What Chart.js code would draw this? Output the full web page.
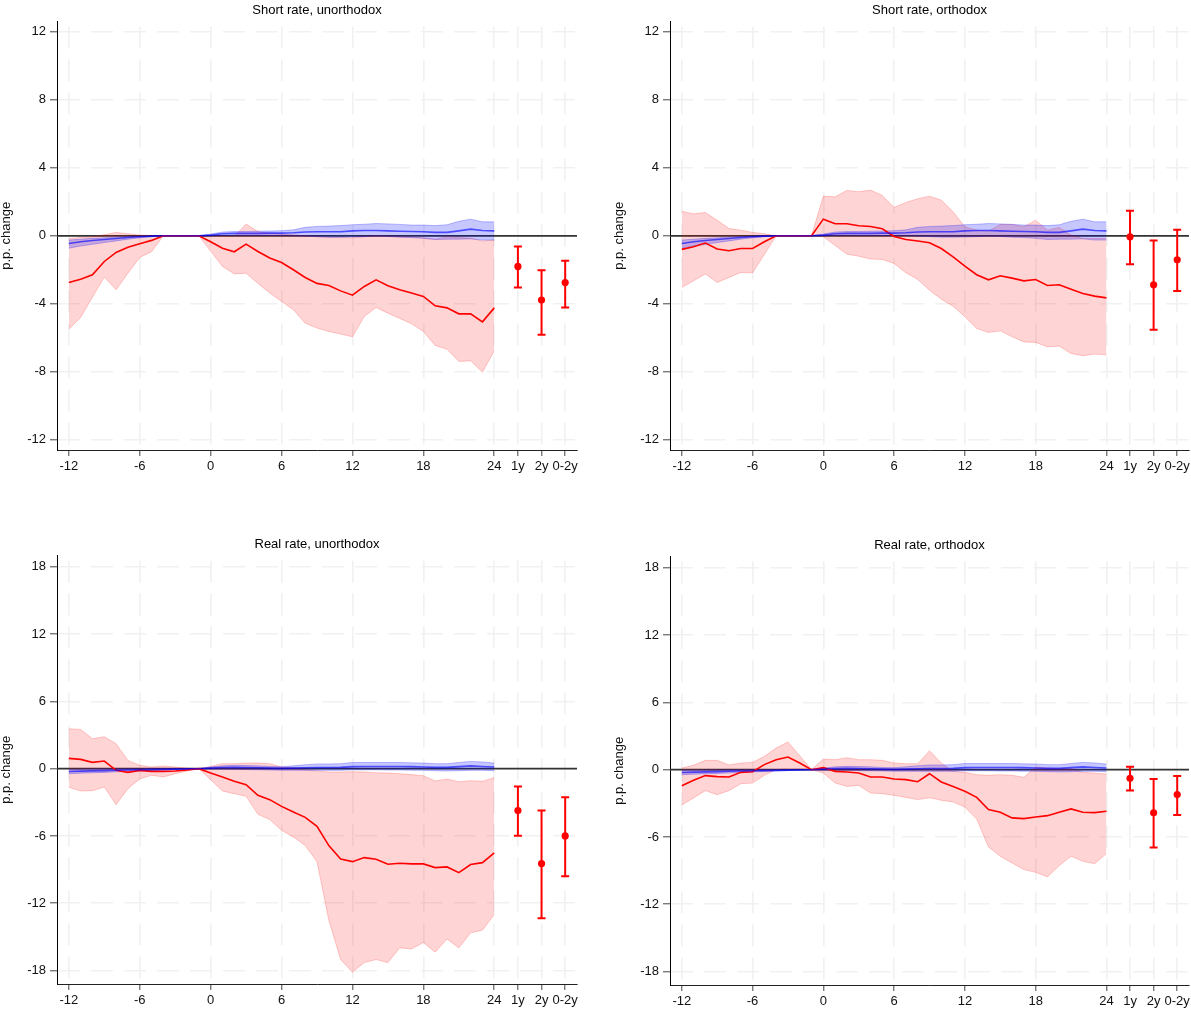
<!DOCTYPE html>
<html>
<head>
<meta charset="utf-8">
<title>Impulse responses</title>
<script src="https://cdn.jsdelivr.net/npm/chart.js@4.4.1/dist/chart.umd.min.js"></script>
<style>
  html, body { margin: 0; padding: 0; background: #fff; overflow: hidden; }
  .panel { position: absolute; height: 480px; }
</style>
</head>
<body>
<div class="panel" style="left:0;top:0;width:595px"><canvas id="c1"></canvas></div>
<div class="panel" style="left:613px;top:0;width:582px"><canvas id="c2"></canvas></div>
<div class="panel" style="left:0;top:534px;width:595px"><canvas id="c3"></canvas></div>
<div class="panel" style="left:613px;top:535px;width:582px"><canvas id="c4"></canvas></div>
<script>
// horizon in months
var months = [-12,-11,-10,-9,-8,-7,-6,-5,-4,-3,-2,-1,0,1,2,3,4,5,6,7,8,9,10,11,12,13,14,15,16,17,18,19,20,21,22,23,24];
// summary estimates sit to the right of the monthly path
var summaryPos = [26, 28, 30];
var summaryLabels = ['1y', '2y', '0-2y'];
var xTicks = [-12, -6, 0, 6, 12, 18, 24, 26, 28, 30];
var yTicksShort = [-12, -8, -4, 0, 4, 8, 12];
var yTicksReal = [-18, -12, -6, 0, 6, 12, 18];

// short rate, unorthodox
var shortUnoIrf = [-2.75,-2.55,-2.29,-1.51,-0.98,-0.67,-0.47,-0.27,0,0,0,0,-0.35,-0.73,-0.94,-0.49,-0.92,-1.31,-1.57,-2.0,-2.45,-2.80,-2.92,-3.24,-3.49,-2.98,-2.59,-2.94,-3.18,-3.37,-3.57,-4.12,-4.24,-4.59,-4.59,-5.06,-4.24];
var shortUnoLo = [-5.49,-4.80,-3.61,-2.43,-3.18,-2.20,-1.27,-0.94,0,0,0,0,-0.9,-1.80,-2.24,-2.2,-2.8,-3.37,-3.86,-4.35,-5.14,-5.43,-5.63,-5.78,-5.94,-4.75,-4.22,-4.55,-4.86,-5.18,-5.63,-6.45,-6.67,-7.39,-7.35,-8.02,-6.76];
var shortUnoHi = [-0.16,-0.1,-0.06,0.06,0.2,0.12,0.04,0.02,0,0,0,0,0,-0.02,-0.04,0.69,0.25,0.15,0.1,0.05,0,-0.05,-0.1,-0.1,-0.12,-0.05,0,-0.02,-0.05,-0.08,-0.12,-0.2,-0.05,-0.1,-0.15,-0.3,-0.25];
var shortUnoEst = [-1.80, -3.78, -2.75];
var shortUnoEstLo = [-3.04, -5.82, -4.22];
var shortUnoEstHi = [-0.63, -2.02, -1.47];

// short rate, orthodox
var shortOrtIrf = [-0.8,-0.65,-0.43,-0.78,-0.88,-0.75,-0.75,-0.35,0,0,0,0,0.98,0.71,0.71,0.59,0.55,0.41,-0.04,-0.22,-0.31,-0.41,-0.75,-1.24,-1.78,-2.29,-2.59,-2.35,-2.49,-2.65,-2.57,-2.92,-2.88,-3.14,-3.39,-3.55,-3.65];
var shortOrtLo = [-3.04,-2.65,-2.24,-2.75,-2.45,-2.16,-2.18,-1.1,0,0,0,0,-0.05,-0.57,-1.08,-1.2,-1.37,-1.39,-1.63,-2.18,-2.57,-3.2,-3.73,-4.14,-4.76,-5.45,-5.69,-5.59,-5.94,-6.24,-6.27,-6.53,-6.49,-6.92,-7.06,-6.96,-7.0];
var shortOrtHi = [1.45,1.29,1.37,0.92,0.43,0.33,0.2,0.12,0,0,0,0,2.33,2.29,2.67,2.59,2.69,2.37,1.67,1.96,2.18,2.33,2.1,1.41,0.53,0.33,0.27,0.67,0.67,0.53,0.92,0.33,0.49,0.04,-0.16,-0.16,-0.16];
var shortOrtEst = [-0.06, -2.88, -1.41];
var shortOrtEstLo = [-1.67, -5.53, -3.25];
var shortOrtEstHi = [1.47, -0.27, 0.35];

// real rate, unorthodox
var realUnoIrf = [0.92,0.83,0.56,0.68,-0.15,-0.33,-0.15,-0.24,-0.24,-0.21,-0.12,0,-0.39,-0.74,-1.13,-1.43,-2.38,-2.76,-3.36,-3.86,-4.34,-5.14,-6.86,-8.05,-8.29,-7.93,-8.08,-8.52,-8.43,-8.49,-8.49,-8.82,-8.76,-9.27,-8.55,-8.38,-7.51];
var realUnoLo = [-1.66,-1.99,-1.96,-1.63,-3.21,-1.78,-0.92,-0.59,-0.74,-0.45,-0.2,0,-0.98,-1.99,-2.23,-2.46,-4.07,-4.54,-5.49,-6.09,-6.86,-8.29,-13.51,-17.02,-18.15,-17.29,-17.02,-17.29,-15.98,-16.07,-15.5,-16.36,-15.18,-15.98,-14.64,-14.4,-13.01];
var realUnoHi = [3.56,3.5,2.67,2.85,2.23,0.74,0.3,0.15,0.24,0.15,0.05,0,0.2,0.45,0.45,0.5,0.5,0.45,0.15,0.06,-0.09,-0.2,-0.3,-0.3,-0.27,-0.3,-0.36,-0.39,-0.45,-0.53,-0.62,-1.1,-0.92,-1.16,-1.07,-1.13,-0.8];
var realUnoEst = [-3.74, -8.46, -6.0];
var realUnoEstLo = [-5.97, -13.34, -9.59];
var realUnoEstHi = [-1.6, -3.74, -2.55];

// real rate, orthodox
var realOrtIrf = [-1.43,-0.95,-0.53,-0.62,-0.65,-0.24,-0.18,0.45,0.89,1.13,0.59,0,0.18,-0.15,-0.21,-0.3,-0.65,-0.65,-0.83,-0.89,-1.07,-0.36,-1.1,-1.49,-1.93,-2.47,-3.56,-3.8,-4.3,-4.36,-4.22,-4.1,-3.8,-3.5,-3.8,-3.83,-3.71];
var realOrtLo = [-3.15,-2.52,-1.87,-2.23,-1.87,-1.25,-1.19,-0.5,0,0.12,0.09,0,-0.3,-1.19,-1.49,-1.4,-2.08,-2.14,-2.29,-2.47,-2.67,-2.5,-2.73,-2.88,-3.33,-4.4,-6.89,-7.72,-8.32,-8.91,-9.15,-9.56,-8.55,-7.72,-8.17,-8.38,-7.48];
var realOrtHi = [0.15,0.39,0.83,0.83,0.42,0.59,0.65,1.19,1.93,2.47,1.25,0,0.95,0.89,1.07,0.89,0.89,0.83,0.59,0.53,0.53,1.69,0.59,-0.15,-0.24,-0.45,-0.5,-0.45,-0.5,-0.68,0.24,0.15,0.09,0.09,-0.24,-0.3,-0.39];
var realOrtEst = [-0.77, -3.84, -2.22];
var realOrtEstLo = [-1.86, -6.95, -4.05];
var realOrtEstHi = [0.27, -0.83, -0.56];

// comparison group (blue), one per variable
var shortBaseIrf = [-0.45,-0.35,-0.28,-0.22,-0.16,-0.1,-0.06,-0.02,0,0,0,0,0.04,0.12,0.14,0.14,0.14,0.16,0.16,0.18,0.22,0.24,0.24,0.24,0.29,0.31,0.31,0.29,0.27,0.25,0.24,0.2,0.2,0.29,0.39,0.31,0.29];
var shortBaseLo = [-0.73,-0.6,-0.5,-0.4,-0.3,-0.2,-0.12,-0.05,0,0,0,0,0,0.02,0.03,0.02,0.02,0.02,0.01,0,-0.02,-0.05,-0.08,-0.08,-0.07,-0.05,-0.02,-0.04,-0.08,-0.1,-0.15,-0.22,-0.2,-0.2,-0.18,-0.25,-0.25];
var shortBaseHi = [-0.25,-0.2,-0.15,-0.12,-0.08,-0.05,-0.03,-0.01,0,0,0,0,0.1,0.22,0.25,0.25,0.27,0.28,0.3,0.35,0.5,0.55,0.57,0.6,0.65,0.68,0.72,0.7,0.67,0.63,0.63,0.6,0.65,0.85,0.98,0.82,0.82];
var realBaseIrf = [-0.25,-0.22,-0.2,-0.17,-0.14,-0.12,-0.1,-0.08,-0.06,-0.04,-0.02,0,0.05,0.1,0.12,0.1,0.08,0.05,0.03,0.05,0.08,0.1,0.1,0.12,0.18,0.2,0.2,0.2,0.2,0.18,0.15,0.12,0.12,0.18,0.25,0.2,0.15];
var realBaseLo = [-0.45,-0.4,-0.37,-0.33,-0.28,-0.24,-0.2,-0.16,-0.12,-0.08,-0.04,0,-0.05,-0.05,-0.06,-0.08,-0.1,-0.12,-0.14,-0.14,-0.15,-0.15,-0.15,-0.15,-0.1,-0.1,-0.1,-0.12,-0.12,-0.14,-0.15,-0.18,-0.2,-0.18,-0.15,-0.15,-0.18];
var realBaseHi = [-0.05,-0.04,-0.03,-0.02,-0.01,0,0,0,0,0,0,0,0.15,0.25,0.3,0.28,0.25,0.2,0.18,0.25,0.35,0.42,0.42,0.45,0.55,0.55,0.55,0.55,0.55,0.52,0.5,0.45,0.45,0.55,0.65,0.6,0.5];

Chart.defaults.font.family = '"Liberation Sans", Arial, Helvetica, sans-serif';
Chart.defaults.font.size = 13;
Chart.defaults.color = '#111';

var RED = '#ff0000';
var RED_FILL = 'rgba(255,0,0,0.17)';
var RED_EDGE = 'rgba(255,0,0,0.2)';
var BLUE = 'rgba(0,0,255,0.62)';
var BLUE_FILL = 'rgba(0,0,255,0.22)';
var BLUE_EDGE = 'rgba(0,0,255,0.25)';
var GRID = '#f1f1f1';

function path(vals) {
    return months.map(function (m, i) { return {x: m, y: vals[i]}; });
}

// black reference line at zero, under the bands
var zeroLine = {
    id: 'zeroLine',
    beforeDatasetsDraw: function (chart) {
        var ctx = chart.ctx, area = chart.chartArea;
        var y = chart.scales.y.getPixelForValue(0);
        ctx.save();
        ctx.strokeStyle = '#333';
        ctx.lineWidth = 1.8;
        ctx.beginPath();
        ctx.moveTo(area.left, y);
        ctx.lineTo(area.right, y);
        ctx.stroke();
        ctx.restore();
    }
};

// title centred over the plot region
var panelTitle = {
    id: 'panelTitle',
    afterDraw: function (chart, args, opts) {
        var ctx = chart.ctx, area = chart.chartArea;
        ctx.save();
        ctx.font = '13px "Liberation Sans", Arial, Helvetica, sans-serif';
        ctx.fillStyle = '#000';
        ctx.textAlign = 'center';
        ctx.textBaseline = 'middle';
        ctx.fillText(opts.text, (area.left + area.right) / 2, area.top - 11.5);
        ctx.restore();
    }
};

function makePanel(id, title, irf, lo, hi, base, baseLo, baseHi, est, estLo, estHi, yMin, yMax, yTicks, padRight) {
    var datasets = [
        {data: path(hi), fill: '+1', backgroundColor: RED_FILL, borderColor: RED_EDGE, borderWidth: 1, order: 6},
        {data: path(lo), fill: false, borderColor: RED_EDGE, borderWidth: 1, order: 6},
        {data: path(baseHi), fill: '+1', backgroundColor: BLUE_FILL, borderColor: BLUE_EDGE, borderWidth: 1, order: 5},
        {data: path(baseLo), fill: false, borderColor: BLUE_EDGE, borderWidth: 1, order: 5},
        {data: path(irf), fill: false, borderColor: RED, borderWidth: 1.6, order: 3},
        {data: path(base), fill: false, borderColor: BLUE, borderWidth: 1.6, order: 2}
    ];
    // confidence intervals for the 1y, 2y and 0-2y estimates
    summaryPos.forEach(function (p, i) {
        datasets.push({
            data: [{x: p, y: estLo[i]}, {x: p, y: estHi[i]}],
            fill: false, borderColor: RED, borderWidth: 2,
            pointStyle: 'line', pointRadius: 4, pointBorderColor: RED, pointBorderWidth: 2,
            order: 1
        });
    });
    datasets.push({
        data: summaryPos.map(function (p, i) { return {x: p, y: est[i]}; }),
        showLine: false, pointRadius: 3.6, pointStyle: 'circle',
        pointBackgroundColor: RED, pointBorderColor: RED, pointBorderWidth: 0,
        order: 0
    });

    return new Chart(document.getElementById(id), {
        type: 'line',
        data: {datasets: datasets},
        plugins: [zeroLine, panelTitle],
        options: {
            responsive: true,
            maintainAspectRatio: false,
            animation: false,
            elements: {
                point: {radius: 0, hoverRadius: 0},
                line: {tension: 0}
            },
            layout: {padding: {top: 21.6, right: padRight, left: 0, bottom: 0}},
            plugins: {
                legend: {display: false},
                tooltip: {enabled: false},
                panelTitle: {text: title}
            },
            scales: {
                x: {
                    type: 'linear',
                    min: -13,
                    max: 31,
                    afterBuildTicks: function (s) {
                        s.ticks = xTicks.map(function (v) { return {value: v}; });
                    },
                    afterFit: function (s) { s.height = 30; },
                    ticks: {
                        autoSkip: false,
                        maxRotation: 0,
                        padding: 3,
                        color: '#111',
                        callback: function (v) {
                            var k = summaryPos.indexOf(v);
                            return k >= 0 ? summaryLabels[k] : String(v);
                        }
                    },
                    grid: {color: GRID, lineWidth: 1.6, tickColor: '#444', tickLength: 6, tickWidth: 1},
                    border: {color: '#222', width: 1, dash: [22, 11], dashOffset: 28}
                },
                y: {
                    min: yMin,
                    max: yMax,
                    afterBuildTicks: function (s) {
                        s.ticks = yTicks.map(function (v) { return {value: v}; });
                    },
                    afterFit: function (s) { s.width = 57; },
                    ticks: {padding: 4, color: '#111'},
                    title: {display: true, text: 'p.p. change', color: '#111', font: {size: 13, lineHeight: 1.0}, padding: {top: 0, bottom: 0}},
                    grid: {color: GRID, lineWidth: 1.6, tickColor: '#444', tickLength: 7, tickWidth: 1},
                    border: {color: '#000', width: 1, dash: [22, 11], dashOffset: 0}
                }
            }
        }
    });
}

makePanel('c1', 'Short rate, unorthodox', shortUnoIrf, shortUnoLo, shortUnoHi, shortBaseIrf, shortBaseLo, shortBaseHi,
    shortUnoEst, shortUnoEstLo, shortUnoEstHi, -12.6, 12.6, yTicksShort, 18);
makePanel('c2', 'Short rate, orthodox', shortOrtIrf, shortOrtLo, shortOrtHi, shortBaseIrf, shortBaseLo, shortBaseHi,
    shortOrtEst, shortOrtEstLo, shortOrtEstHi, -12.6, 12.6, yTicksShort, 5);
makePanel('c3', 'Real rate, unorthodox', realUnoIrf, realUnoLo, realUnoHi, realBaseIrf, realBaseLo, realBaseHi,
    realUnoEst, realUnoEstLo, realUnoEstHi, -19.2, 19, yTicksReal, 18);
makePanel('c4', 'Real rate, orthodox', realOrtIrf, realOrtLo, realOrtHi, realBaseIrf, realBaseLo, realBaseHi,
    realOrtEst, realOrtEstLo, realOrtEstHi, -19.2, 19, yTicksReal, 5);
</script>
</body>
</html>
